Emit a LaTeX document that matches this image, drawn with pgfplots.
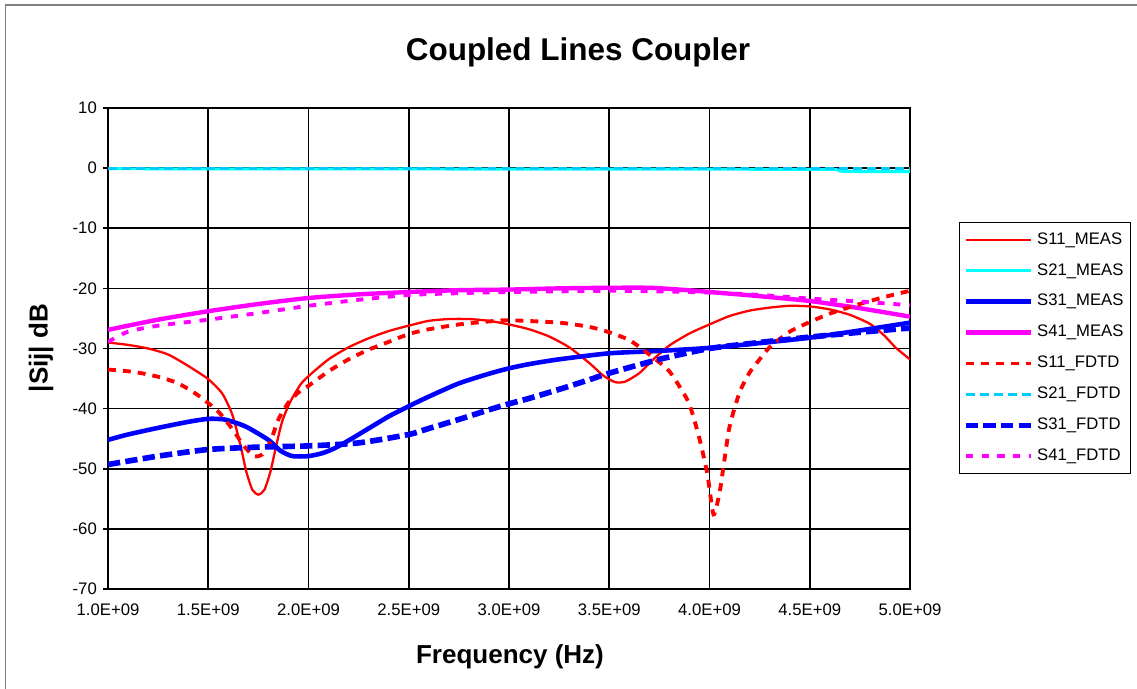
\documentclass[border=0pt]{standalone}
\usepackage{fontspec}
\setmainfont{Liberation Sans}
\usepackage{pgfplots}
\pgfplotsset{compat=1.18}
\definecolor{SRed}{HTML}{FF0000}
\definecolor{SCyan}{HTML}{00FFFF}
\definecolor{SSky}{HTML}{00CCFF}
\definecolor{SBlue}{HTML}{0000FF}
\definecolor{SMag}{HTML}{FF00FF}
\definecolor{Frame}{HTML}{808080}

\begin{document}
\begin{tikzpicture}
% page is 1137 x 689 px, 1 px = 0.02cm
\path[use as bounding box] (0,0) rectangle (22.74cm,13.78cm);
\draw[Frame,line width=0.04cm] (0.11cm,0) -- (0.11cm,13.68cm) -- (22.74cm,13.68cm);
\node[font=\fontsize{17.9}{20}\selectfont\bfseries] at (11.56cm,12.74cm) {Coupled Lines Coupler};
\node[font=\fontsize{14.8}{17}\selectfont\bfseries,rotate=90] at (0.82cm,6.82cm) {|Sij| dB};
\node[font=\fontsize{14.8}{17}\selectfont\bfseries] at (10.2cm,0.64cm) {Frequency (Hz)};

\begin{axis}[
  at={(2.16cm,2.0cm)},anchor=south west,
  scale only axis,width=16.04cm,height=9.62cm,
  xmin=1,xmax=5,ymin=-70,ymax=10,
  xtick={1,1.5,2,2.5,3,3.5,4,4.5,5},
  xticklabels={1.0E+09,1.5E+09,2.0E+09,2.5E+09,3.0E+09,3.5E+09,4.0E+09,4.5E+09,5.0E+09},
  ytick={-70,-60,-50,-40,-30,-20,-10,0,10},
  yticklabels={-70,-60,-50,-40,-30,-20,-10,0,10},
  tick label style={font=\fontsize{9.5}{11}\selectfont},
  xticklabel style={yshift=-0.08cm},
  tick align=outside,major tick length=0.1cm,
  xtick pos=bottom,ytick pos=left,
  xtick style={draw=none},
  ytick style={black,line width=0.9pt},
  grid=major,
  major grid style={black,line width=0.9pt},
  axis line style={black,line width=1.2pt},
  legend cell align=left,
  legend image code/.code={\draw[#1] (0cm,0cm) -- (1.3cm,0cm);},
  legend style={at={(1.0611,0.763)},anchor=north west,draw=black,line width=0.6pt,
    font=\fontsize{9.5}{11}\selectfont,inner xsep=2pt,inner ysep=1pt,row sep=0pt,
    nodes={text height=7pt,text depth=2pt,inner ysep=4.3pt,inner xsep=2pt}},
]
% hidden black dashed trace under S21
\addplot[black,line width=1.2pt,dash pattern=on 5pt off 3pt,forget plot] coordinates {(2.3,0.05)(5.0,0.05)};

\addplot[SRed,line width=1.3pt,smooth,tension=0.4] coordinates {
(1.0,-29.0)(1.1,-29.4)(1.2,-30.0)(1.3,-31.0)(1.4,-32.9)(1.5,-35.1)(1.57,-37.5)(1.62,-41)
(1.66,-46)(1.69,-50.5)(1.72,-53.5)(1.75,-54.3)(1.78,-53.5)(1.81,-50.5)(1.84,-46)(1.87,-42)
(1.91,-38.8)(1.96,-36)(2.0,-34.6)(2.1,-31.8)(2.2,-29.8)(2.3,-28.3)(2.4,-27.1)(2.5,-26.2)
(2.6,-25.4)(2.7,-25.1)(2.8,-25.1)(2.9,-25.4)(3.0,-26.0)(3.1,-26.8)(3.2,-28.0)(3.3,-29.8)
(3.4,-32.4)(3.47,-34.5)(3.53,-35.6)(3.58,-35.5)(3.65,-34.1)(3.72,-31.8)(3.8,-29.5)(3.9,-27.5)
(4.0,-26.0)(4.1,-24.6)(4.2,-23.7)(4.3,-23.2)(4.4,-22.9)(4.5,-23.0)(4.6,-23.5)(4.7,-24.4)
(4.8,-25.9)(4.87,-27.8)(4.93,-29.9)(5.0,-31.8)};
\addlegendentry{S11\_MEAS}

\addplot[SCyan,line width=1.7pt] coordinates {
(1.0,-0.1)(4.63,-0.2)(4.66,-0.55)(5.0,-0.6)};
\addlegendentry{S21\_MEAS}

\addplot[SBlue,line width=2.6pt,smooth,tension=0.4] coordinates {
(1.0,-45.2)(1.1,-44.3)(1.25,-43.2)(1.4,-42.2)(1.5,-41.7)(1.58,-41.8)(1.65,-42.5)(1.7,-43.2)
(1.8,-45.2)(1.86,-47)(1.92,-47.9)(2.0,-47.9)(2.07,-47.4)(2.13,-46.6)(2.2,-45.3)(2.3,-43.3)
(2.4,-41.3)(2.5,-39.6)(2.6,-38.0)(2.75,-35.8)(2.9,-34.2)(3.0,-33.3)(3.1,-32.6)(3.25,-31.8)
(3.5,-30.8)(3.75,-30.4)(4.0,-29.9)(4.25,-29.1)(4.5,-28.2)(4.75,-27.0)(5.0,-25.7)};
\addlegendentry{S31\_MEAS}

\addplot[SMag,line width=2.5pt,smooth,tension=0.4] coordinates {
(1.0,-26.9)(1.25,-25.2)(1.5,-23.8)(1.75,-22.6)(2.0,-21.6)(2.25,-21.0)(2.5,-20.6)(2.75,-20.3)
(3.0,-20.2)(3.25,-20.0)(3.5,-19.9)(3.7,-19.9)(3.85,-20.2)(4.0,-20.6)(4.25,-21.3)(4.5,-22.1)
(4.75,-23.3)(5.0,-24.7)};
\addlegendentry{S41\_MEAS}

\addplot[SRed,line width=2.2pt,dash pattern=on 4.5pt off 4pt,smooth,tension=0.4] coordinates {
(1.0,-33.5)(1.13,-33.9)(1.25,-34.7)(1.35,-35.8)(1.45,-37.8)(1.55,-40.5)(1.62,-43.4)(1.68,-46.3)
(1.73,-47.9)(1.77,-47.6)(1.81,-45.5)(1.85,-41.8)(1.9,-39.0)(1.95,-37.3)(2.0,-36.2)(2.1,-33.8)
(2.2,-31.8)(2.3,-30.2)(2.4,-28.9)(2.5,-27.6)(2.6,-26.8)(2.75,-26.0)(2.9,-25.5)(3.0,-25.3)
(3.25,-25.7)(3.4,-26.4)(3.5,-27.3)(3.6,-28.6)(3.68,-30.5)(3.75,-32.3)(3.8,-33.8)(3.85,-36.3)
(3.9,-39.3)(3.95,-45)(3.99,-51)(4.02,-57.6)(4.05,-54)(4.07,-49.6)(4.1,-43)(4.15,-37.3)
(4.2,-34)(4.25,-31.8)(4.3,-29.8)(4.4,-27.2)(4.5,-25.6)(4.6,-24.2)(4.7,-23.1)(4.8,-22.1)
(4.9,-21.2)(5.0,-20.4)};
\addlegendentry{S11\_FDTD}

\addplot[SSky,line width=1.7pt,dash pattern=on 5pt off 3pt] coordinates {
(1.0,0)(5.0,0)};
\addlegendentry{S21\_FDTD}

\addplot[SBlue,line width=3.2pt,dash pattern=on 7pt off 3pt,smooth,tension=0.4] coordinates {
(1.0,-49.3)(1.25,-47.9)(1.5,-46.8)(1.75,-46.4)(2.0,-46.2)(2.25,-45.7)(2.5,-44.3)(2.6,-43.3)
(2.75,-41.8)(2.9,-40.2)(3.0,-39.2)(3.1,-38.3)(3.25,-36.8)(3.4,-35.2)(3.5,-34.1)(3.75,-31.8)
(4.0,-30.0)(4.25,-29.0)(4.5,-28.1)(4.75,-27.3)(5.0,-26.6)};
\addlegendentry{S31\_FDTD}

\addplot[SMag,line width=2.2pt,dash pattern=on 4pt off 5pt,smooth,tension=0.4] coordinates {
(1.0,-28.9)(1.1,-27.2)(1.25,-26.2)(1.5,-25.2)(1.75,-24.1)(2.0,-22.9)(2.25,-21.9)(2.5,-21.1)
(2.75,-20.8)(3.0,-20.6)(3.25,-20.5)(3.5,-20.4)(3.75,-20.5)(4.0,-20.7)(4.25,-21.1)(4.5,-21.7)
(4.75,-22.2)(5.0,-22.8)};
\addlegendentry{S41\_FDTD}
\end{axis}
\end{tikzpicture}
\end{document}
